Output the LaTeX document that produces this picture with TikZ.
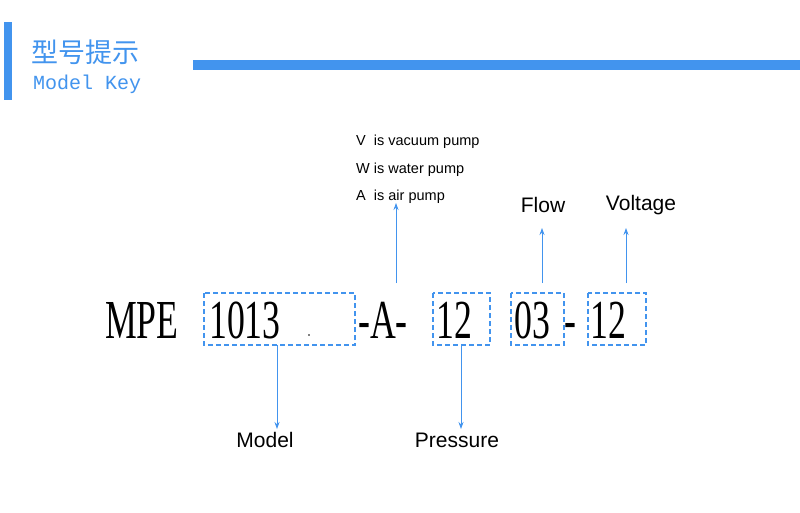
\documentclass[tikz,border=0pt]{standalone}
\usepackage{fontspec}
\setmainfont{Liberation Serif}
\setsansfont{Liberation Sans}
\setmonofont{Liberation Mono}
\newfontfamily\cjk{Noto Sans CJK SC}
\usetikzlibrary{arrows.meta}
\definecolor{kb}{RGB}{66,148,238}
\begin{document}
\begin{tikzpicture}[x=1pt,y=-1pt,
  bx/.style={draw=kb,dashed,dash pattern=on 5pt off 3pt,line width=1.2pt},
  big/.style={inner sep=0,anchor=base west,font=\fontsize{55}{55}\selectfont},
  ar/.style={draw=kb,line width=0.8pt,-{Stealth[length=7pt,width=5pt]}},
  lbl/.style={font=\sffamily\fontsize{21}{21}\selectfont,inner sep=0},
  sm/.style={font=\sffamily\fontsize{14.5}{14.5}\selectfont,inner sep=0,anchor=west}]
\useasboundingbox[fill=white] (0,0) rectangle (800,512);
% header
\fill[kb] (4,22) rectangle (12,100);
\fill[kb] (193,60) rectangle (800,70);
\node[inner sep=0,anchor=west,text=kb,font=\cjk\fontsize{27}{27}\selectfont] (cn) at (31,52) {型号提示};
\node[inner sep=0,anchor=west,text=kb,font=\ttfamily\fontsize{20}{20}\selectfont] (mk) at (33,84) {Model Key};
% boxes
\draw[bx] (204,293) rectangle (355,345);
\draw[bx] (433,293) rectangle (490,345);
\draw[bx] (511,293) rectangle (564,345);
\draw[bx] (588,293) rectangle (646,345);
% code text
\node[big] (t1) at (105,338) {\scalebox{0.65}[1]{MPE}};
\node[big] (t2) at (209,338) {\scalebox{0.65}[1]{1013}};
\fill (309,335) circle (0.8);
\node[big] (t3) at (358,338) {\scalebox{0.65}[1]{-A-}};
\node[big] (t4) at (436,338) {\scalebox{0.65}[1]{12}};
\node[big] (t5) at (514,338) {\scalebox{0.65}[1]{03}};
\node[big] (t6) at (564,338) {\scalebox{0.65}[1]{-}};
\node[big] (t7) at (590,338) {\scalebox{0.65}[1]{12}};
% labels
\node[lbl] (model) at (265,440) {Model};
\node[lbl] (press) at (457,440) {Pressure};
\node[lbl] (flow) at (543,205) {Flow};
\node[lbl] (volt) at (641,205) {Voltage};
\node[sm] (v) at (356,142) {V\ \ is vacuum pump};
\node[sm] (w) at (356,170) {W is water pump};
\node[sm] (a) at (356,197) {A\ \ is air pump};
% arrows
\coordinate (m0) at (277,345); \coordinate (m1) at (277,429);
\coordinate (p0) at (461,345); \coordinate (p1) at (461,429);
\coordinate (a0) at (396,283); \coordinate (a1) at (396,203);
\coordinate (f0) at (542,283); \coordinate (f1) at (542,228);
\coordinate (g0) at (626,283); \coordinate (g1) at (626,228);
\draw[ar] (m0) -- (m1);
\draw[ar] (p0) -- (p1);
\draw[ar] (a0) -- (a1);
\draw[ar] (f0) -- (f1);
\draw[ar] (g0) -- (g1);
\end{tikzpicture}
\end{document}
